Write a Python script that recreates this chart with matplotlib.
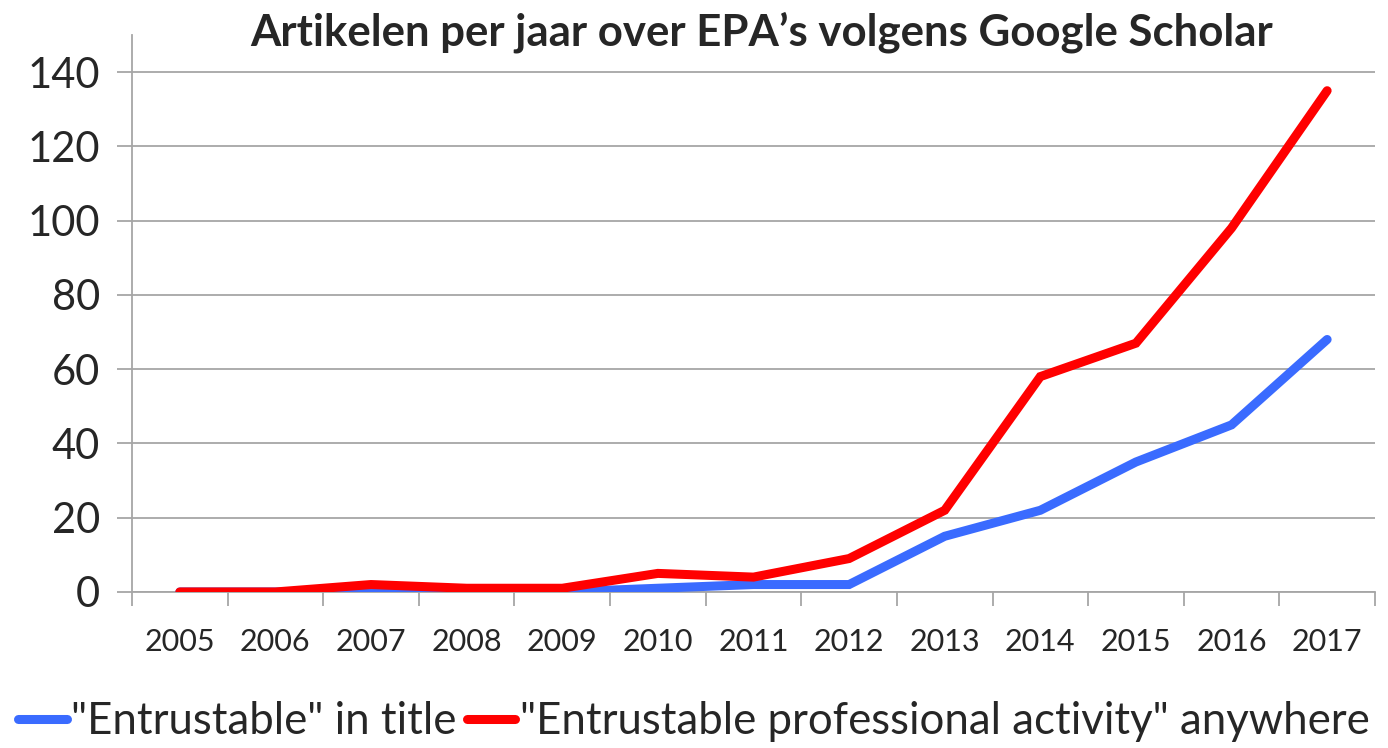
import matplotlib
matplotlib.use("Agg")
import matplotlib.pyplot as plt
from matplotlib.ticker import FixedLocator

years = ["2005", "2006", "2007", "2008", "2009", "2010", "2011",
         "2012", "2013", "2014", "2015", "2016", "2017"]
title_series = [0, 0, 0, 0, 0, 1, 2, 2, 15, 22, 35, 45, 68]
anywhere_series = [0, 0, 2, 1, 1, 5, 4, 9, 22, 58, 67, 98, 135]
y_ticks = [0, 20, 40, 60, 80, 100, 120, 140]

plt.rcParams['font.family'] = ['Lato', 'DejaVu Sans']
txt = '#262626'
grid_c = '#A6A6A6'

fig = plt.figure(figsize=(13.88, 7.48), dpi=100)
ax = fig.add_axes([0.0951, 0.2086, 0.8955, 0.7446])

x = list(range(len(years)))
ax.plot(x, title_series, color='#3A6BFF', lw=6.5, solid_capstyle='round',
        solid_joinstyle='miter', label='"Entrustable" in title', zorder=3)
ax.plot(x, anywhere_series, color='#FF0000', lw=6.5, solid_capstyle='round',
        solid_joinstyle='miter', label='"Entrustable professional activity" anywhere', zorder=4)

ax.set_xlim(-0.5, len(years) - 0.5)
ax.set_ylim(0, 150)
ax.set_yticks(y_ticks)
ax.set_yticklabels([str(v) for v in y_ticks])
ax.yaxis.grid(True, color=grid_c, lw=1.3)
ax.set_axisbelow(True)

ax.set_xticks(x)
ax.set_xticklabels(years)
ax.xaxis.set_minor_locator(FixedLocator([i - 0.5 for i in range(len(years) + 1)]))
ax.tick_params(axis='x', which='major', length=0, pad=26, labelsize=22, labelcolor=txt)
ax.tick_params(axis='x', which='minor', length=10, width=1.3, color=grid_c, direction='out')
ax.tick_params(axis='y', length=11, width=1.3, color=grid_c, pad=12, labelsize=30, labelcolor=txt)

for s in ['top', 'right']:
    ax.spines[s].set_visible(False)
for s in ['left', 'bottom']:
    ax.spines[s].set_color(grid_c)
    ax.spines[s].set_linewidth(1.3)

fig.text(0.549, 0.957, "Artikelen per jaar over EPA\u2019s volgens Google Scholar",
         ha='center', va='center', fontsize=31.5, fontweight='bold', color=txt)

leg = fig.legend(loc='center', bbox_to_anchor=(0.5, 0.035), ncol=2, frameon=False,
                 fontsize=31.5, handlelength=1.1, handletextpad=0.1, columnspacing=0.25,
                 borderaxespad=0)
for t in leg.get_texts():
    t.set_color(txt)

fig.savefig('out.png', dpi=100)
